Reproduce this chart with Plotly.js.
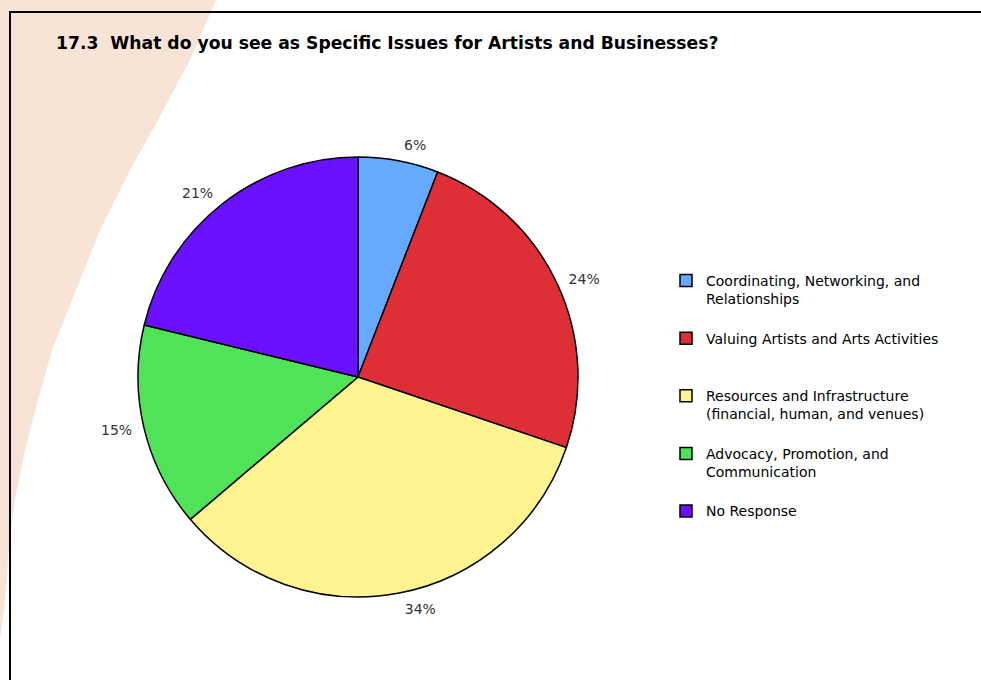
<!DOCTYPE html>
<html>
<head>
<meta charset="utf-8">
<script src="https://cdn.plot.ly/plotly-3.0.1.min.js"></script>
<style>
  html, body { margin: 0; padding: 0; background: #ffffff; }
  #chart { width: 981px; height: 680px; }
</style>
</head>
<body>
<div id="chart"></div>
<script>
// ---- Data ----
var titleText = "17.3  What do you see as Specific Issues for Artists and Businesses?";
var categories = [
  "Coordinating, Networking, and<br>Relationships",
  "Valuing Artists and Arts Activities",
  "Resources and Infrastructure<br>(financial, human, and venues)",
  "Advocacy, Promotion, and<br>Communication",
  "No Response"
];
// shares (labels show the rounded percent)
var shares = [5.9, 24.3, 33.6, 15.0, 21.2];
var sliceColors = ["#66AAFF", "#DE2F36", "#FFF48F", "#50E35A", "#6A12FF"];

// ---- Layout helpers (figure pixels -> paper fractions; margins are 0) ----
var W = 981, H = 680;
function px(x) { return x / W; }
function py(y) { return 1 - y / H; }

// legend labels padded to a uniform 3 lines so entries are evenly spaced
var legendLabels = categories.map(function (c) {
  var n = c.split("<br>").length;
  var s = c;
  for (var i = n; i < 3; i++) s += "<br> ";
  return s;
});

// decorative peach swoosh behind the chart frame
var swoosh = [[0,-5],[218,-5],[216,0],[190,60],[158,120],[130,170],[100,230],[72,300],[52,350],[38,400],[25,450],[15,500],[10,535],[7,575],[4,610],[0,638]];
var swooshPath = swoosh.map(function (p, i) {
  return (i === 0 ? "M" : "L") + px(p[0]).toFixed(5) + "," + py(p[1]).toFixed(5);
}).join(" ") + " Z";

var pieCx = 358, pieCy = 377, pieR = 220, labelR = 228;

var pieTrace = {
  type: "pie",
  labels: legendLabels,
  values: shares,
  sort: false,
  direction: "clockwise",
  rotation: 0,
  marker: { colors: sliceColors, line: { color: "#000000", width: 1.5 } },
  textinfo: "none",
  hovertemplate: "%{label}: %{percent:.0%}<extra></extra>",
  domain: { x: [px(pieCx - pieR), px(pieCx + pieR)], y: [py(pieCy + pieR), py(pieCy - pieR)] },
  showlegend: true
};

var labelTrace = {
  type: "pie",
  labels: legendLabels,
  values: shares,
  sort: false,
  direction: "clockwise",
  rotation: 0,
  marker: { colors: ["rgba(0,0,0,0)","rgba(0,0,0,0)","rgba(0,0,0,0)","rgba(0,0,0,0)","rgba(0,0,0,0)"], line: { width: 0 } },
  texttemplate: "%{percent:.0%}",
  textposition: "outside",
  outsidetextfont: { family: "DejaVu Sans", size: 14, color: "#333333" },
  hoverinfo: "skip",
  domain: { x: [px(pieCx - labelR), px(pieCx + labelR)], y: [py(pieCy + labelR), py(pieCy - labelR)] },
  showlegend: false
};

var layout = {
  width: W,
  height: H,
  margin: { l: 0, r: 0, t: 0, b: 0 },
  paper_bgcolor: "#ffffff",
  plot_bgcolor: "#ffffff",
  font: { family: "DejaVu Sans", size: 14, color: "#000000" },
  title: {
    text: "<b>" + titleText + "</b>",
    font: { family: "DejaVu Sans", size: 17.2, color: "#000000" },
    xref: "container", yref: "container",
    x: px(56), xanchor: "left",
    y: py(42.5), yanchor: "middle"
  },
  legend: {
    x: px(666), xanchor: "left",
    y: py(265), yanchor: "top",
    valign: "top",
    font: { family: "DejaVu Sans", size: 14, color: "#000000" },
    bgcolor: "rgba(0,0,0,0)",
    borderwidth: 0,
    traceorder: "normal"
  },
  shapes: [
    { type: "path", xref: "paper", yref: "paper", path: swooshPath,
      fillcolor: "#F8E4D7", line: { width: 0 }, layer: "below" },
    { type: "line", xref: "paper", yref: "paper",
      x0: px(10), y0: py(12), x1: px(990), y1: py(12),
      line: { color: "#000000", width: 2 }, layer: "below" },
    { type: "line", xref: "paper", yref: "paper",
      x0: px(10), y0: py(11), x1: px(10), y1: py(690),
      line: { color: "#000000", width: 2 }, layer: "below" }
  ],
  showlegend: true
};

Plotly.newPlot("chart", [labelTrace, pieTrace], layout, { displayModeBar: false });
</script>
</body>
</html>
